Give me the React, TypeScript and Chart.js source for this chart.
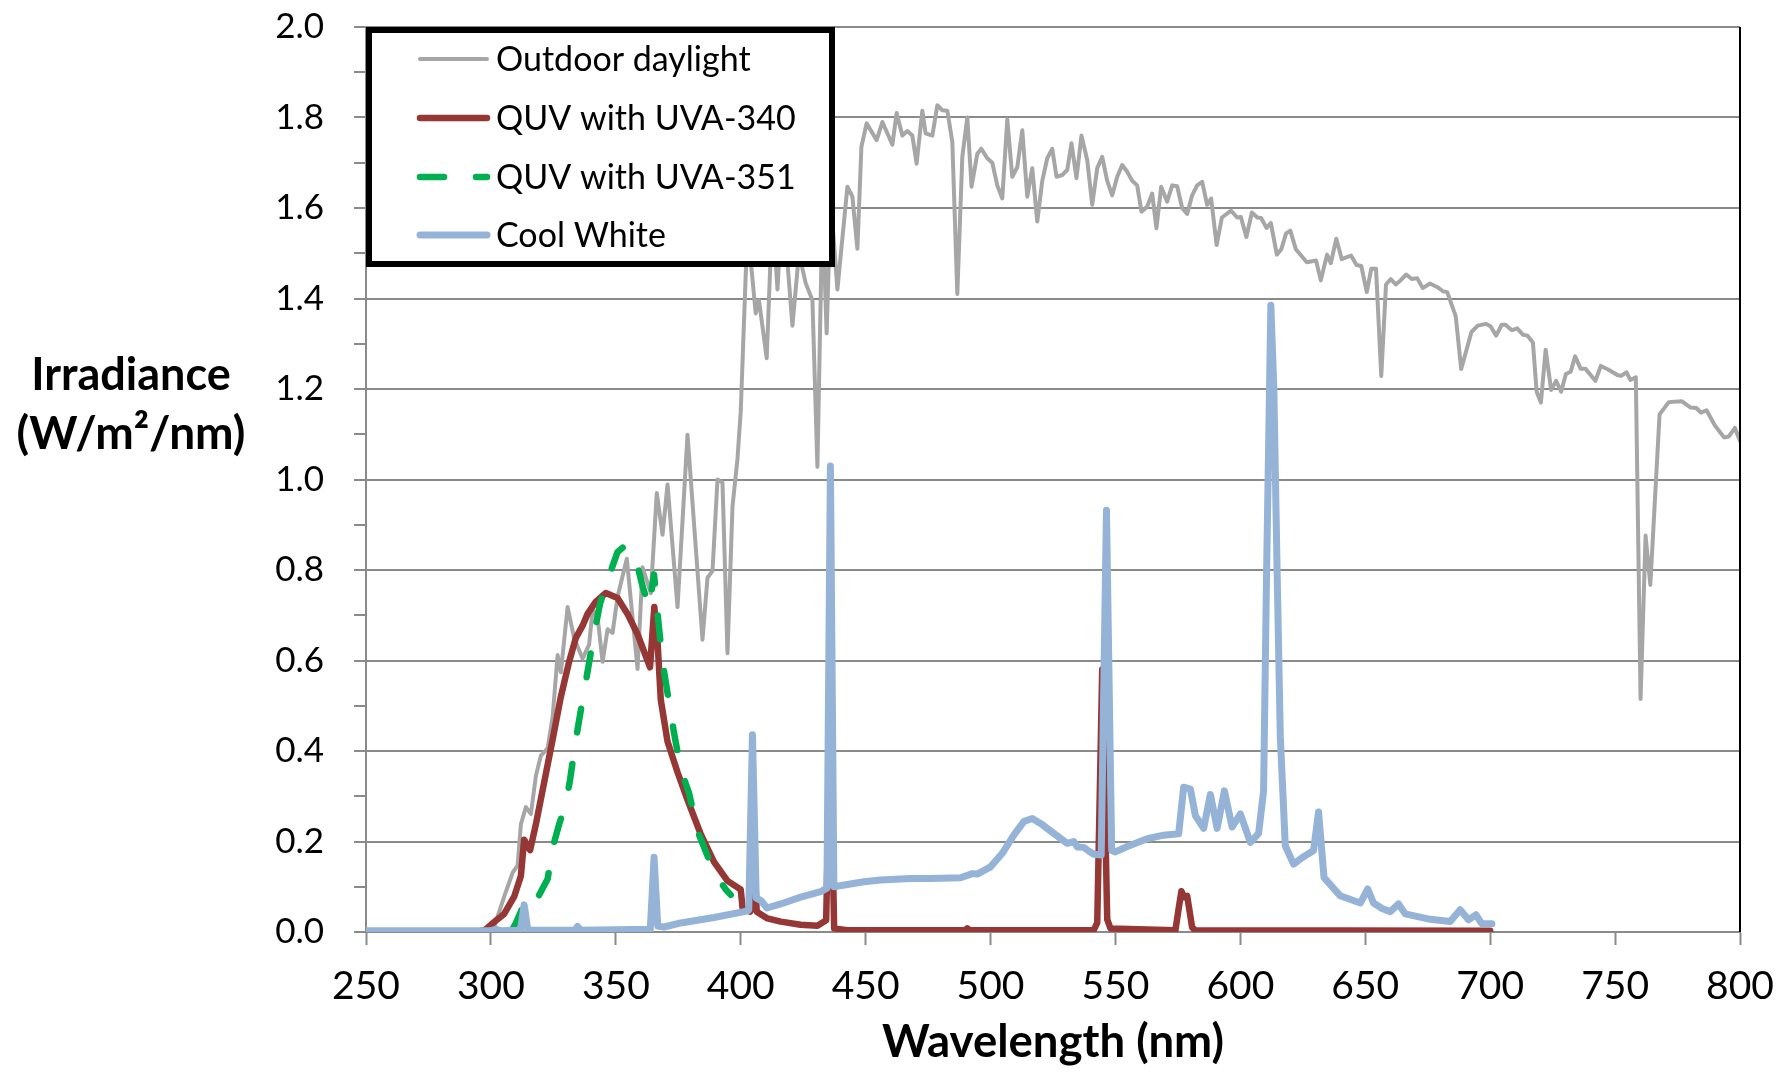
import React, { useEffect, useRef } from 'react';
import { Chart, registerables } from 'chart.js';

Chart.register(...registerables);

// ---------- labels ----------
const seriesLabels = ['Outdoor daylight', 'QUV with UVA-340', 'QUV with UVA-351', 'Cool White'];
const yAxisTitleLines = ['Irradiance', '(W/m²/nm)'];
const xAxisTitle = 'Wavelength (nm)';
const xRange = [250, 800];
const yRange = [0, 2];

// ---------- data: [wavelength nm, irradiance W/m²/nm] ----------
const daylight: [number, number][] = [
  [250, 0], [290, 0], [297, 0], [301.3, 0.01], [305.3, 0.078], [308.7, 0.131], [310.7, 0.147], [312, 0.238],
  [314, 0.276], [316, 0.261], [318, 0.345], [320, 0.39], [322.7, 0.406], [324.7, 0.475], [326.7, 0.612],
  [328, 0.574], [330.7, 0.718], [333.3, 0.65], [336.7, 0.604], [339.3, 0.635], [340.7, 0.711], [342.7, 0.696],
  [344.7, 0.597], [346.7, 0.669], [348.7, 0.661], [350.7, 0.741], [354.4, 0.825], [358.7, 0.581], [360.7, 0.806],
  [364, 0.749], [366.4, 0.97], [368.7, 0.878], [370.7, 0.989], [374.7, 0.718], [378.7, 1.099], [384.7, 0.646],
  [386.7, 0.783], [388.7, 0.798], [390.7, 1.0], [392.7, 0.993], [394.7, 0.616], [396.7, 0.94], [398.7, 1.046],
  [400, 1.15], [402.7, 1.56], [406, 1.367], [407.3, 1.396], [410.4, 1.268], [412.7, 1.6], [414.7, 1.42],
  [416.7, 1.62], [420.7, 1.34], [423.3, 1.5], [426, 1.434], [428.7, 1.396], [430.7, 1.028], [432.7, 1.6],
  [434.4, 1.323], [436, 1.62], [438.7, 1.42], [442.7, 1.647], [444.7, 1.625], [446.7, 1.51], [448.3, 1.735],
  [450.4, 1.787], [454.4, 1.75], [456.7, 1.79], [460.7, 1.74], [462.4, 1.81], [464.7, 1.76], [466.7, 1.77],
  [468.7, 1.76], [470.4, 1.698], [472.7, 1.815], [474, 1.765], [476.7, 1.76], [478.7, 1.827], [480.7, 1.816],
  [482.7, 1.815], [484.7, 1.746], [486.7, 1.41], [488.7, 1.713], [490.7, 1.8], [492.4, 1.647], [494.7, 1.72],
  [496.3, 1.731], [498.7, 1.71], [500.7, 1.7], [502.7, 1.65], [504.7, 1.621], [506.7, 1.796], [508.7, 1.669],
  [510.7, 1.69], [512.7, 1.772], [514.7, 1.625], [516.7, 1.688], [518.7, 1.57], [520.7, 1.66], [522.7, 1.71],
  [524.7, 1.731], [526.4, 1.669], [528.7, 1.673], [530.7, 1.684], [532.4, 1.743], [534.4, 1.666], [536.4, 1.76],
  [538.7, 1.706], [540.7, 1.607], [542.7, 1.688], [544.7, 1.713], [546.7, 1.66], [548.7, 1.628], [550.7, 1.669],
  [552.7, 1.695], [554.7, 1.68], [556.7, 1.66], [558.7, 1.65], [560.4, 1.592], [562.7, 1.603], [564.7, 1.632],
  [566.4, 1.555], [568.3, 1.647], [570.7, 1.614], [572.7, 1.65], [574.7, 1.648], [576.7, 1.6], [578.7, 1.587],
  [580.7, 1.628], [582.7, 1.65], [584.7, 1.658], [586.7, 1.607], [588.3, 1.621], [590.5, 1.518], [592.6, 1.579],
  [596.3, 1.594], [598.7, 1.579], [600.2, 1.58], [602.4, 1.536], [604.6, 1.59], [606.8, 1.579], [608.3, 1.578],
  [610.5, 1.556], [612.2, 1.567], [614.6, 1.497], [616.4, 1.509], [618.3, 1.544], [620, 1.55], [622.2, 1.509],
  [626.6, 1.48], [630.3, 1.484], [632.2, 1.44], [634.7, 1.497], [636.2, 1.478], [638.4, 1.532], [640.6, 1.487],
  [644.3, 1.495], [646.5, 1.474], [648.4, 1.472], [650.6, 1.414], [652.4, 1.466], [654.3, 1.466], [656.4, 1.229],
  [658.3, 1.431], [660.2, 1.443], [662.2, 1.431], [664.1, 1.44], [666.4, 1.453], [668.6, 1.443], [670.8, 1.445],
  [673, 1.423], [675.9, 1.433], [678.9, 1.425], [681.1, 1.416], [682.8, 1.414], [686.2, 1.361], [688.4, 1.244],
  [692.5, 1.326], [695, 1.34], [698.4, 1.344], [700.2, 1.338], [702.4, 1.318], [704.6, 1.342], [706.1, 1.342],
  [708.7, 1.33], [710.8, 1.334], [713.1, 1.32], [714.9, 1.318], [717.1, 1.303], [718.6, 1.194], [720.3, 1.17],
  [722.2, 1.287], [724.4, 1.198], [726.4, 1.218], [728.4, 1.194], [730.3, 1.233], [732.2, 1.238], [734, 1.272],
  [736.2, 1.245], [738.1, 1.245], [742.1, 1.218], [744.3, 1.251], [747.2, 1.243], [750.9, 1.231], [752.4, 1.229],
  [754.6, 1.237], [756.1, 1.22], [758.3, 1.226], [760.2, 0.515], [762.2, 0.876], [764.1, 0.767], [767.8, 1.144],
  [771.5, 1.171], [776.6, 1.173], [780.3, 1.159], [782.5, 1.158], [784.3, 1.148], [786.6, 1.153], [789.9, 1.12],
  [793.6, 1.093], [795.5, 1.095], [798, 1.114], [800, 1.085],
];

const uva340: [number, number][] = [
  [250, 0], [296, 0.002], [298, 0.006], [301.3, 0.022], [305.3, 0.04], [309.3, 0.078], [312, 0.124],
  [313.3, 0.204], [315.7, 0.181], [318, 0.238], [321.3, 0.33], [324.7, 0.425], [328, 0.52], [331.3, 0.597],
  [334, 0.65], [336.7, 0.677], [338.7, 0.703], [342, 0.73], [346, 0.749], [350.7, 0.738], [354.7, 0.703],
  [358.7, 0.658], [363.7, 0.585], [365.4, 0.718], [366.7, 0.642], [368, 0.513], [370.7, 0.421], [374.7, 0.353],
  [378.7, 0.292], [384, 0.216], [389.3, 0.155], [394.7, 0.113], [400, 0.094], [400.8, 0.05], [403.8, 0.045],
  [405.2, 0.2], [406.4, 0.045], [410.7, 0.03], [416, 0.023], [424, 0.016], [430.7, 0.014], [434.2, 0.026],
  [435.8, 0.45], [437.4, 0.008], [442.7, 0.004], [489.8, 0.004], [490.7, 0.008], [491.6, 0.004], [541.3, 0.004],
  [542.7, 0.02], [544.7, 0.58], [546.7, 0.028], [548, 0.008], [574, 0.004], [575.3, 0.052], [576.4, 0.09],
  [577.6, 0.077], [578.7, 0.08], [580.7, 0.01], [582, 0.004], [700, 0.003],
];

const uva351: [number, number][] = [
  [308, 0], [310, 0.02], [312, 0.045], [313.3, 0.07], [315, 0.06], [318, 0.068], [322.7, 0.117], [324.7, 0.186],
  [327.3, 0.238], [330, 0.284], [331.7, 0.337], [334, 0.425], [336.7, 0.513], [338.4, 0.566], [341, 0.65],
  [343.7, 0.726], [347.3, 0.787], [350.7, 0.84], [353.3, 0.852], [356, 0.845], [358, 0.825], [360.7, 0.764],
  [363.3, 0.718], [365.3, 0.79], [367, 0.688], [368.7, 0.597], [370.7, 0.528], [373.3, 0.44], [376, 0.36],
  [379.3, 0.307], [382.7, 0.223], [386, 0.178], [389.3, 0.132], [394, 0.094], [396, 0.082],
];

const coolWhite: [number, number][] = [
  [250, 0.003], [300, 0.003], [302, 0.006], [304, 0.003], [311.8, 0.004], [313.3, 0.06], [314.8, 0.004],
  [333.5, 0.004], [334.7, 0.012], [336, 0.004], [363.8, 0.006], [365.3, 0.165], [366.8, 0.013], [369.3, 0.011],
  [376, 0.02], [389.3, 0.032], [401.3, 0.045], [403.2, 0.048], [404.7, 0.436], [406.2, 0.075], [408, 0.07],
  [410.5, 0.053], [416, 0.062], [424, 0.077], [432, 0.089], [434.5, 0.097], [435.9, 1.03], [437.3, 0.1],
  [449.3, 0.111], [456, 0.115], [468, 0.118], [476, 0.118], [488, 0.12], [492.7, 0.129], [494.7, 0.128],
  [500, 0.144], [504.7, 0.174], [509.3, 0.214], [513.3, 0.244], [516.7, 0.251], [520, 0.24], [525.3, 0.218],
  [530.7, 0.196], [533.3, 0.2], [534.7, 0.188], [537.3, 0.187], [539.3, 0.179], [541.3, 0.172], [544.3, 0.17],
  [546.4, 0.932], [548.5, 0.18], [550, 0.177], [554.7, 0.189], [562.7, 0.206], [569.3, 0.214], [575.3, 0.217],
  [577.3, 0.32], [580, 0.316], [582, 0.257], [585.3, 0.229], [588, 0.304], [590.7, 0.229], [593.6, 0.312],
  [596.7, 0.232], [600, 0.261], [604, 0.198], [607.3, 0.218], [609.3, 0.312], [610.4, 0.76], [612.2, 1.385],
  [613.4, 1.2], [614.7, 0.8], [616, 0.43], [618, 0.19], [621.3, 0.15], [624.7, 0.164], [629.3, 0.18],
  [631.3, 0.265], [633.5, 0.12], [640, 0.08], [648, 0.064], [651, 0.095], [653.3, 0.064], [656.7, 0.052],
  [660, 0.045], [663.3, 0.062], [666, 0.04], [676, 0.028], [684, 0.023], [688, 0.049], [691.3, 0.027],
  [694.3, 0.038], [696.7, 0.018], [700.7, 0.018],
];

// ---------- styles ----------
const COLORS = ['#A6A6A6', '#953735', '#00B050', '#95B3D7'];
const WIDTHS = [4, 6.5, 6.5, 7];
const DASH: number[][] = [[], [], [24, 32], []];
const GRID = '#8a8a8a';
const FONT = 'Lato, Calibri, "Open Sans", sans-serif';

const toPoints = (arr: [number, number][]) => arr.map(([x, y]) => ({ x, y }));

const clearScalePadding = (scale: any) => {
  scale.paddingTop = 0;
  scale.paddingBottom = 0;
  scale.paddingLeft = 0;
  scale.paddingRight = 0;
};

const overlayPlugin = {
  id: 'overlay',
  afterDatasetsDraw(chart: any) {
    const ctx = chart.ctx as CanvasRenderingContext2D;
    const { left, right, top, bottom } = chart.chartArea;
    ctx.save();
    // right border of plot area
    ctx.strokeStyle = '#000';
    ctx.lineWidth = 2;
    ctx.beginPath();
    ctx.moveTo(right, top);
    ctx.lineTo(right, bottom);
    ctx.stroke();

    // legend box
    const bx = left + 3, by = top + 3, bw = 463, bh = 234;
    ctx.fillStyle = '#fff';
    ctx.fillRect(bx, by, bw, bh);
    ctx.lineWidth = 6;
    ctx.strokeStyle = '#000';
    ctx.strokeRect(bx, by, bw, bh);

    const rowY = [29, 88, 147, 205];
    chart.data.datasets.forEach((ds: any, i: number) => {
      const cy = by + rowY[i];
      ctx.save();
      ctx.strokeStyle = COLORS[i];
      ctx.lineWidth = WIDTHS[i];
      ctx.lineCap = 'round';
      ctx.setLineDash(DASH[i]);
      ctx.beginPath();
      ctx.moveTo(left + 54, cy);
      ctx.lineTo(left + 121, cy);
      ctx.stroke();
      ctx.restore();
      ctx.fillStyle = '#000';
      ctx.font = `34px ${FONT}`;
      ctx.textAlign = 'left';
      ctx.textBaseline = 'alphabetic';
      ctx.fillText(ds.label, left + 130, cy + 12);
    });
    ctx.restore();
  },
  afterDraw(chart: any) {
    const ctx = chart.ctx as CanvasRenderingContext2D;
    const { left, right } = chart.chartArea;
    ctx.save();
    ctx.fillStyle = '#000';
    ctx.textAlign = 'center';
    ctx.textBaseline = 'alphabetic';
    ctx.font = `bold 45px ${FONT}`;
    ctx.fillText(yAxisTitleLines[0], 131, 390);
    ctx.font = `bold 46px ${FONT}`;
    ctx.fillText(yAxisTitleLines[1], 131, 449);
    ctx.font = `bold 45.5px ${FONT}`;
    ctx.fillText(xAxisTitle, (left + right) / 2, 1057);
    ctx.restore();
  },
};

export default function App() {
  const canvasRef = useRef<HTMLCanvasElement | null>(null);

  useEffect(() => {
    const canvas = canvasRef.current;
    if (!canvas) return;
    const series = [daylight, uva340, uva351, coolWhite];
    const drawOrder = [3, 2, 1, 0];
    const chart = new Chart(canvas, {
      type: 'line',
      data: {
        datasets: series.map((s, i) => ({
          label: seriesLabels[i],
          data: toPoints(s),
          borderColor: COLORS[i],
          backgroundColor: COLORS[i],
          borderWidth: WIDTHS[i],
          borderDash: DASH[i],
          borderCapStyle: 'round',
          borderJoinStyle: 'round',
          pointRadius: 0,
          pointHoverRadius: 0,
          tension: 0,
          fill: false,
          order: drawOrder[i],
        })),
      },
      options: {
        responsive: false,
        animation: false,
        events: [],
        layout: { padding: { top: 27, right: 37, left: 0, bottom: 0 } },
        plugins: {
          legend: { display: false },
          tooltip: { enabled: false },
          title: { display: false },
        },
        scales: {
          x: {
            type: 'linear',
            min: xRange[0],
            max: xRange[1],
            ticks: {
              stepSize: 50,
              autoSkip: false,
              maxRotation: 0,
              color: '#000',
              padding: 18,
              font: { family: FONT, size: 39 },
            },
            grid: {
              drawOnChartArea: false,
              drawTicks: true,
              tickLength: 13,
              tickColor: GRID,
              tickWidth: 2,
            },
            border: { display: true, color: GRID, width: 2 },
            afterFit: (scale: any) => {
              scale.height = 140;
              clearScalePadding(scale);
            },
          },
          y: {
            type: 'linear',
            min: yRange[0],
            max: yRange[1],
            ticks: {
              stepSize: 0.1,
              autoSkip: false,
              color: '#000',
              padding: 30,
              font: { family: FONT, size: 35 },
              callback: (v: any) => {
                const k = Math.round(Number(v) * 10);
                return k % 2 === 0 ? (k / 10).toFixed(1) : '';
              },
            },
            grid: {
              color: (ctx: any) =>
                Math.round(ctx.tick.value * 10) % 2 === 0 ? GRID : 'rgba(0,0,0,0)',
              lineWidth: 2,
              drawTicks: true,
              tickLength: 12,
              tickColor: GRID,
              tickWidth: 2,
            },
            border: { display: true, color: GRID, width: 2 },
            afterFit: (scale: any) => {
              scale.width = 366;
              clearScalePadding(scale);
            },
          },
        },
      },
      plugins: [overlayPlugin],
    } as any);
    return () => chart.destroy();
  }, []);

  return (
    <div style={{ position: 'absolute', left: 0, top: 0, width: 1777, height: 1072, background: '#fff' }}>
      <canvas ref={canvasRef} width={1777} height={1072} style={{ display: 'block' }} />
    </div>
  );
}
